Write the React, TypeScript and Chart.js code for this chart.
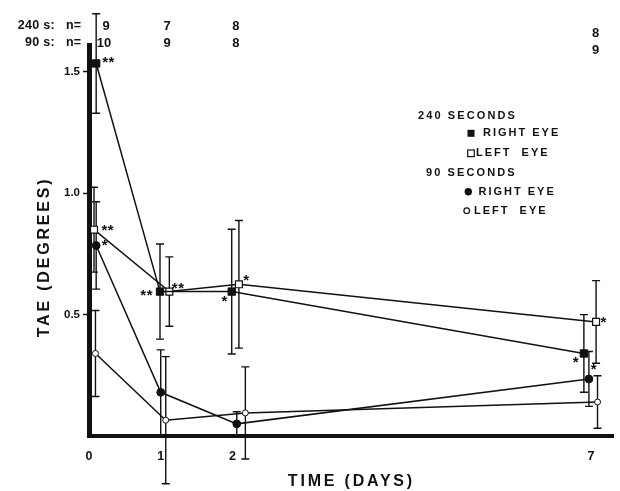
import React, { useEffect, useRef } from 'react';
import { Chart, registerables } from 'chart.js';

Chart.register(...registerables);

// ---------- data ----------
const xTickDays = [0, 1, 2, 7];
const yTickValues = [0.5, 1.0, 1.5];

const nDays = [0, 1, 2, 7];
const n240 = ['9', '7', '8', '8'];
const n90 = ['10', '9', '8', '9'];

// plotted day positions (points are slightly staggered in the figure)
const r240X = [0.1, 0.99, 1.99, 6.9];
const r240Y = [1.535, 0.595, 0.595, 0.34];
const r240E = [0.205, 0.196, 0.257, 0.16];
const r240Sig = ['**', '**', '*', '*'];

const l240X = [0.07, 1.12, 2.09, 7.07];
const l240Y = [0.85, 0.595, 0.625, 0.47];
const l240E = [0.175, 0.143, 0.263, 0.17];
const l240Sig = ['**', '**', '*', '*'];

const r90X = [0.1, 1.0, 2.06, 6.97];
const r90Y = [0.785, 0.18, 0.05, 0.235];
const r90E = [0.18, 0.175, 0.05, 0.113];
const r90Sig = ['*', '', '', '*'];

const l90X = [0.09, 1.07, 2.18, 7.09];
const l90Y = [0.34, 0.065, 0.095, 0.14];
const l90E = [0.177, 0.262, 0.19, 0.108];
const l90Sig = ['', '', '', ''];

// ---------- style ----------
const INK = '#111';
const FONT = '"Liberation Sans", Arial, Helvetica, sans-serif';
const X_MAX = 7.317;
const Y_MAX = 1.611;

// asterisk placement relative to its point: [dx, dy, align]
const sigOffsets: Record<string, [number, number, CanvasTextAlign][]> = {
  r240: [[6, -3.5, 'left'], [-7, 1, 'right'], [-7, 7, 'center'], [-8, 6, 'center']],
  l240: [[7.5, -2, 'left'], [2.5, -6.5, 'left'], [7.5, -7, 'center'], [7.5, -2.5, 'center']],
  r90: [[5.5, -3, 'left'], [0, 0, 'left'], [0, 0, 'left'], [5, -13, 'center']],
  l90: [[0, 0, 'left'], [0, 0, 'left'], [0, 0, 'left'], [0, 0, 'left']],
};

function drawText(
  ctx: CanvasRenderingContext2D,
  s: string,
  x: number,
  y: number,
  size: number,
  spacing: number,
  align: CanvasTextAlign = 'left'
) {
  ctx.save();
  ctx.font = `bold ${size}px ${FONT}`;
  (ctx as any).letterSpacing = `${spacing}px`;
  ctx.textAlign = align;
  ctx.textBaseline = 'middle';
  ctx.fillStyle = INK;
  ctx.fillText(s, x, y);
  ctx.restore();
}

function marker(ctx: CanvasRenderingContext2D, kind: string, x: number, y: number) {
  ctx.save();
  ctx.strokeStyle = INK;
  ctx.fillStyle = INK;
  ctx.lineWidth = 1.2;
  if (kind === 'fsq') {
    ctx.fillRect(x - 3.5, y - 3.5, 7, 7);
  } else if (kind === 'osq') {
    ctx.fillStyle = '#fff';
    ctx.fillRect(x - 3.3, y - 3.3, 6.6, 6.6);
    ctx.strokeRect(x - 3.3, y - 3.3, 6.6, 6.6);
  } else if (kind === 'fci') {
    ctx.beginPath();
    ctx.arc(x, y, 3.7, 0, Math.PI * 2);
    ctx.fill();
  } else {
    ctx.beginPath();
    ctx.arc(x, y, 2.8, 0, Math.PI * 2);
    ctx.fillStyle = '#fff';
    ctx.fill();
    ctx.stroke();
  }
  ctx.restore();
}

type SeriesInfo = { key: string; err: number[]; sig: string[] };

export default function App() {
  const ref = useRef<HTMLCanvasElement>(null);

  useEffect(() => {
    const canvas = ref.current;
    if (!canvas) return;

    const info: SeriesInfo[] = [
      { key: 'r240', err: r240E, sig: r240Sig },
      { key: 'l240', err: l240E, sig: l240Sig },
      { key: 'r90', err: r90E, sig: r90Sig },
      { key: 'l90', err: l90E, sig: l90Sig },
    ];

    const series = (
      label: string,
      xs: number[],
      ys: number[],
      pointStyle: string,
      radius: number,
      fill: string,
      bw: number
    ) => ({
      label,
      data: xs.map((x, i) => ({ x, y: ys[i] })),
      showLine: true,
      borderColor: INK,
      borderWidth: 1.5,
      tension: 0,
      pointStyle,
      pointRadius: radius,
      pointBackgroundColor: fill,
      pointBorderColor: INK,
      pointBorderWidth: bw,
      clip: false as any,
    });

    const errorBars = {
      id: 'errorBars',
      beforeDatasetsDraw(chart: any) {
        const ctx: CanvasRenderingContext2D = chart.ctx;
        const xs = chart.scales.x;
        const ys = chart.scales.y;
        ctx.save();
        ctx.strokeStyle = INK;
        ctx.lineWidth = 1.4;
        chart.data.datasets.forEach((ds: any, di: number) => {
          ds.data.forEach((p: any, i: number) => {
            const e = info[di].err[i];
            const x = xs.getPixelForValue(p.x);
            const yt = ys.getPixelForValue(p.y + e);
            const yb = ys.getPixelForValue(p.y - e);
            ctx.beginPath();
            ctx.moveTo(x, yt);
            ctx.lineTo(x, yb);
            ctx.moveTo(x - 4, yt);
            ctx.lineTo(x + 4, yt);
            ctx.moveTo(x - 4, yb);
            ctx.lineTo(x + 4, yb);
            ctx.stroke();
          });
        });
        ctx.restore();
      },
    };

    const annotations = {
      id: 'annotations',
      afterDraw(chart: any) {
        const ctx: CanvasRenderingContext2D = chart.ctx;
        const xs = chart.scales.x;
        const ys = chart.scales.y;

        // significance asterisks
        chart.data.datasets.forEach((ds: any, di: number) => {
          const inf = info[di];
          ds.data.forEach((p: any, i: number) => {
            const s = inf.sig[i];
            if (!s) return;
            const [dx, dy, al] = sigOffsets[inf.key][i];
            const x = xs.getPixelForValue(p.x) + dx;
            const y = ys.getPixelForValue(p.y) + dy + 3.4;
            drawText(ctx, s, x, y, 15, 0.5, al);
          });
        });

        // n= rows
        drawText(ctx, '240 s:', 55, 26, 12.5, 0.3, 'right');
        drawText(ctx, 'n=', 66, 26, 12.5, 0, 'left');
        drawText(ctx, '90 s:', 55, 43, 12.5, 0.3, 'right');
        drawText(ctx, 'n=', 66, 43, 12.5, 0, 'left');
        const nOff = [17, 6.5, 3.5, 4.5];
        const nDrop = [0, 0, 0, 7];
        nDays.forEach((d, i) => {
          const x = xs.getPixelForValue(d) + nOff[i];
          drawText(ctx, n240[i], x, 26 + nDrop[i], 13, 0, 'center');
          drawText(ctx, n90[i], x - (n90[i].length > 1 ? 2 : 0), 43 + nDrop[i], 13, 0, 'center');
        });

        // legend
        drawText(ctx, '240 SECONDS', 418, 116, 11, 2.1);
        marker(ctx, 'fsq', 471, 133.3);
        drawText(ctx, 'RIGHT EYE', 483, 133.3, 11, 2);
        marker(ctx, 'osq', 471, 153.3);
        drawText(ctx, 'LEFT  EYE', 476, 153.3, 11, 2);
        drawText(ctx, '90 SECONDS', 426, 172.7, 11, 2.1);
        marker(ctx, 'fci', 468.3, 191.7);
        drawText(ctx, 'RIGHT EYE', 478.5, 191.7, 11, 2);
        marker(ctx, 'oci', 466.7, 210.7);
        drawText(ctx, 'LEFT  EYE', 474, 210.7, 11, 2);

        // axis titles
        drawText(ctx, 'TIME (DAYS)', (chart.chartArea.left + chart.chartArea.right) / 2, 482, 16, 2.8, 'center');
        ctx.save();
        ctx.translate(45, 257);
        ctx.rotate(-Math.PI / 2);
        drawText(ctx, 'TAE (DEGREES)', 0, 0, 16, 2.8, 'center');
        ctx.restore();
      },
    };

    const chart = new Chart(canvas, {
      type: 'scatter',
      data: {
        datasets: [
          series('240 s right eye', r240X, r240Y, 'rect', 5.2, INK, 1),
          series('240 s left eye', l240X, l240Y, 'rect', 4.9, '#fff', 1.2),
          series('90 s right eye', r90X, r90Y, 'circle', 3.9, INK, 1),
          series('90 s left eye', l90X, l90Y, 'circle', 3.0, '#fff', 1),
        ] as any,
      },
      options: {
        animation: false,
        responsive: false,
        maintainAspectRatio: false,
        layout: { padding: { top: 45, left: 0, right: 0, bottom: 0 } },
        plugins: { legend: { display: false }, tooltip: { enabled: false } },
        events: [],
        scales: {
          x: {
            type: 'linear',
            min: 0,
            max: X_MAX,
            afterFit: (s: any) => {
              s.height = 491 - 436;
            },
            afterBuildTicks: (s: any) => {
              s.ticks = xTickDays.map((v) => ({ value: v }));
            },
            grid: { display: false },
            border: { display: true, color: INK, width: 4 },
            ticks: {
              color: INK,
              font: { family: FONT, size: 12.5, weight: 'bold' },
              padding: 5,
              maxRotation: 0,
              autoSkip: false,
              callback: (v: any) => String(v),
            },
          },
          y: {
            type: 'linear',
            min: 0,
            max: Y_MAX,
            afterFit: (s: any) => {
              s.width = 89;
            },
            afterBuildTicks: (s: any) => {
              s.ticks = yTickValues.map((v) => ({ value: v }));
            },
            grid: {
              display: true,
              drawOnChartArea: false,
              drawTicks: true,
              tickLength: 6,
              tickColor: INK,
              tickWidth: 1.5,
              color: INK,
            },
            border: { display: true, color: INK, width: 5 },
            ticks: {
              color: INK,
              font: { family: FONT, size: 11.5, weight: 'bold' },
              padding: 3,
              callback: (v: any) => Number(v).toFixed(1),
            },
          },
        },
      } as any,
      plugins: [errorBars, annotations],
    });

    return () => chart.destroy();
  }, []);

  return (
    <div style={{ position: 'absolute', left: 0, top: 0, width: 620, height: 491, background: '#fff' }}>
      <canvas ref={ref} width={620} height={491} style={{ display: 'block', width: 620, height: 491 }} />
    </div>
  );
}
